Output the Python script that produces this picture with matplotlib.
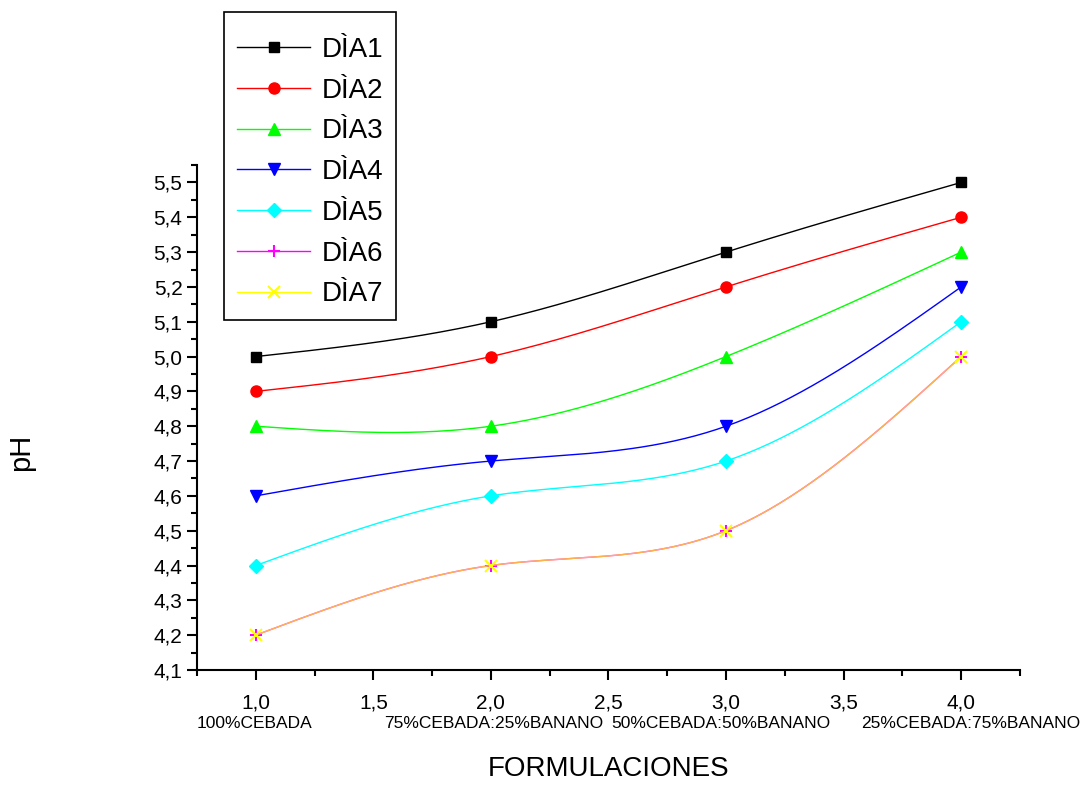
import numpy as np
import matplotlib.pyplot as plt
from matplotlib.patches import Rectangle
from matplotlib.ticker import MultipleLocator

# data
x = [1.0, 2.0, 3.0, 4.0]
formulaciones = ["100%CEBADA", "75%CEBADA:25%BANANO", "50%CEBADA:50%BANANO", "25%CEBADA:75%BANANO"]
series_names = ["DÌA1", "DÌA2", "DÌA3", "DÌA4", "DÌA5", "DÌA6", "DÌA7"]
dia1 = [5.0, 5.1, 5.3, 5.5]
dia2 = [4.9, 5.0, 5.2, 5.4]
dia3 = [4.8, 4.8, 5.0, 5.3]
dia4 = [4.6, 4.7, 4.8, 5.2]
dia5 = [4.4, 4.6, 4.7, 5.1]
dia6 = [4.2, 4.4, 4.5, 5.0]
dia7 = [4.2, 4.4, 4.5, 5.0]
all_series = [dia1, dia2, dia3, dia4, dia5, dia6, dia7]

colors = ["black", "red", "#00ff00", "blue", "cyan", "magenta", "yellow"]
markers = ["s", "o", "^", "v", "D", "+", "x"]
msizes = [7, 8, 9, 9, 7, 9, 9]

plt.rcParams['font.family'] = ['Liberation Sans', 'DejaVu Sans']


def natural_spline(xs, ys, n=200):
    # natural cubic spline through the points, only for drawing the smooth line
    xs = np.asarray(xs, float)
    ys = np.asarray(ys, float)
    k = len(xs)
    h = np.diff(xs)
    A = np.zeros((k, k))
    b = np.zeros(k)
    A[0, 0] = A[-1, -1] = 1
    for i in range(1, k - 1):
        A[i, i - 1] = h[i - 1]
        A[i, i] = 2 * (h[i - 1] + h[i])
        A[i, i + 1] = h[i]
        b[i] = 6 * ((ys[i + 1] - ys[i]) / h[i] - (ys[i] - ys[i - 1]) / h[i - 1])
    M = np.linalg.solve(A, b)
    xx = np.linspace(xs[0], xs[-1], n)
    idx = np.clip(np.searchsorted(xs, xx) - 1, 0, k - 2)
    x0, x1 = xs[idx], xs[idx + 1]
    hh = x1 - x0
    t0, t1 = x1 - xx, xx - x0
    yy = (M[idx] * t0**3 + M[idx + 1] * t1**3) / (6 * hh) \
        + (ys[idx] / hh - M[idx] * hh / 6) * t0 \
        + (ys[idx + 1] / hh - M[idx + 1] * hh / 6) * t1
    return xx, yy


fig = plt.figure(figsize=(10.8, 7.87), dpi=100)
ax = fig.add_axes([0.1824, 0.1487, 0.762, 0.6416])

handles = []
for name, ys, c, m, ms in zip(series_names, all_series, colors, markers, msizes):
    xx, yy = natural_spline(x, ys)
    alpha = 0.7 if name == "DÌA7" else 1.0
    mew = 1.5 if m in "+x" else 1
    ax.plot(xx, yy, color=c, lw=1, alpha=alpha)
    ax.plot(x, ys, linestyle="none", marker=m, color=c, ms=ms, mew=mew)
    h, = ax.plot([], [], color=c, lw=1, marker=m, ms=ms, mew=mew)
    handles.append(h)

ax.set_xlim(0.75, 4.25)
ax.set_ylim(4.1, 5.55)
ax.xaxis.set_major_locator(MultipleLocator(0.5))
ax.xaxis.set_minor_locator(MultipleLocator(0.25))
ax.yaxis.set_major_locator(MultipleLocator(0.1))
ax.yaxis.set_minor_locator(MultipleLocator(0.05))
ax.xaxis.set_major_formatter(lambda v, p: f"{v:.1f}".replace(".", ","))
ax.yaxis.set_major_formatter(lambda v, p: f"{v:.1f}".replace(".", ","))
for s in ["top", "right"]:
    ax.spines[s].set_visible(False)
for s in ["left", "bottom"]:
    ax.spines[s].set_linewidth(1.5)
ax.tick_params(which="major", direction="out", length=7, width=1.5, labelsize=15)
ax.tick_params(which="minor", direction="out", length=4, width=1.5)
ax.tick_params(axis="x", pad=10)

label_x = [0.995, 2.01, 2.98, 4.04]
for lx, t in zip(label_x, formulaciones):
    ax.text(lx, -0.092, t, transform=ax.get_xaxis_transform(), ha="center", va="top",
            fontsize=12.5)

ax.set_xlabel("FORMULACIONES", fontsize=20, va="top")
ax.xaxis.set_label_coords(0.5, -0.17)
ax.set_ylabel("pH", fontsize=21)
ax.yaxis.set_label_coords(-0.197, 0.43)

# legend box drawn separately: more room above/below than at the sides
fig.patches.append(Rectangle((224 / 1080, 1 - 320 / 787), 172 / 1080, 308 / 787,
                             transform=fig.transFigure, fill=False, edgecolor="black",
                             linewidth=1.2, zorder=5))
leg = fig.legend(handles, series_names, loc="upper left", bbox_to_anchor=(237 / 1080, 0.953),
                 borderaxespad=0, borderpad=0, fontsize=20, frameon=False,
                 handlelength=2.63, labelspacing=0.53, handletextpad=0.43)

fig.savefig("out.png", dpi=100)
